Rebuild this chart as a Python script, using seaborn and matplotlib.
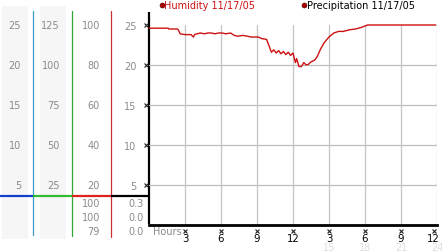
import matplotlib
matplotlib.use("Agg")
import matplotlib.pyplot as plt
import matplotlib.transforms as mtransforms
import seaborn as sns
import pandas as pd

# ---- data ----
hours = [0, 1.6, 1.65, 2.4, 2.6, 3.0, 3.5, 3.7, 3.8, 4.0, 4.3, 4.6, 4.9, 5.2, 5.5,
         5.8, 6.1, 6.4, 6.8, 7.1, 7.4, 7.8, 8.2, 8.5, 8.8, 9.1, 9.4, 9.8, 10.0,
         10.2, 10.4, 10.6, 10.8, 11.0, 11.2, 11.4, 11.6, 11.8, 12.0, 12.2, 12.3,
         12.5, 12.7, 12.9, 13.1, 13.3, 13.5, 13.8, 14.0, 14.3, 14.6, 15.0, 15.4,
         15.8, 16.2, 16.7, 17.2, 17.7, 18.2, 23.9]
humidity = [24.6, 24.6, 24.5, 24.5, 23.9, 23.8, 23.8, 23.5, 23.8, 23.9, 24.0, 23.9,
            24.0, 24.0, 23.9, 24.0, 24.0, 23.9, 24.0, 23.7, 23.6, 23.7, 23.6, 23.5,
            23.5, 23.5, 23.3, 23.2, 22.4, 21.6, 21.9, 21.5, 21.8, 21.4, 21.7, 21.3,
            21.6, 21.2, 21.5, 20.3, 20.8, 19.8, 19.8, 20.3, 20.0, 20.1, 20.4, 20.6,
            21.0, 22.0, 22.8, 23.5, 24.0, 24.2, 24.2, 24.4, 24.5, 24.7, 25.0, 25.0]

x_ticks = [3, 6, 9, 12, 15, 18, 21, 24]
x_tick_labels = ["3", "6", "9", "12", "3", "6", "9", "12"]
x_faint_ticks = [15, 18, 21, 24]
x_faint_labels = ["15", "18", "21", "24"]
y_ticks = [5, 10, 15, 20, 25]
col1_labels = ["5", "10", "15", "20", "25"]
col2_labels = ["25", "50", "75", "100", "125"]
col3_labels = ["20", "40", "60", "80", "100"]
col4_labels = ["5", "10", "15", "20", "25"]
col3_current = ["100", "100", "79"]
col4_current = ["0.3", "0.0", "0.0"]
legend_labels = ["Humidity 11/17/05", "Precipitation 11/17/05"]

df = pd.DataFrame({"hour": hours, "humidity": humidity})

sns.set_style("white")
plt.rcParams["font.family"] = ["DejaVu Sans"]

W, H = 442, 253
fig = plt.figure(figsize=(W / 100, H / 100), dpi=100)

# overlay in pixel coordinates for decorations
ax0 = fig.add_axes([0, 0, 1, 1], zorder=0)
ax0.set_xlim(0, W)
ax0.set_ylim(H, 0)
ax0.axis("off")

# main axes
top_px, bot_px = 26, 226
ax = fig.add_axes([149 / W, (H - bot_px) / H, (437 - 149) / W, (bot_px - top_px) / H], zorder=2)
ax.patch.set_alpha(0)
ax.set_xlim(0, 24)
ax.set_ylim(0, 25)

sns.lineplot(data=df, x="hour", y="humidity", ax=ax, color="#cc1111", lw=1.0,
             clip_on=False, zorder=3)

# grid
for v in [5, 10, 15, 20]:
    ax.axhline(v, color="#bdbdbd", lw=0.9, zorder=1)
for t in x_ticks:
    ax.axvline(t, color="#c4c4c4", lw=0.9, zorder=1)

for s in ["top", "right", "left"]:
    ax.spines[s].set_visible(False)
ax.spines["bottom"].set_color("black")
ax.spines["bottom"].set_linewidth(2.0)

ax.set_xticks(x_ticks)
ax.set_xticklabels(x_tick_labels, fontsize=7.3, color="black")
ax.set_yticks(y_ticks)
ax.set_yticklabels(col4_labels, fontsize=7, color="#8a8a8a")
ax.tick_params(axis="x", length=0, pad=6)
ax.tick_params(axis="y", length=0, pad=9)
ax.set_xlabel("")
ax.set_ylabel("")
last = ax.get_xticklabels()[-1]
last.set_transform(last.get_transform() + mtransforms.ScaledTranslation(-4 / 100, 0, fig.dpi_scale_trans))

# "x" tick markers
ax.plot([-0.25] * len(y_ticks), y_ticks, ls="none", marker="x", ms=2.5, mew=0.8,
        color="#222222", clip_on=False)
ax.plot(x_ticks[:-1], [-0.75] * (len(x_ticks) - 1), ls="none", marker="x", ms=2.5, mew=0.8,
        color="#222222", clip_on=False)
ax.plot([x_ticks[-1] - 0.25], [-0.75], ls="none", marker="x", ms=2.5, mew=0.8,
        color="#222222", clip_on=False)

# faint 24h labels
for t, lab in zip(x_faint_ticks, x_faint_labels):
    ax.text(t, -2.75, lab, ha="center", va="center", fontsize=7, color="#dedede", clip_on=False)

# left black axis line
ax0.plot([149, 149], [13, 225], color="black", lw=1.6, solid_capstyle="butt")

# left panel backgrounds
ax0.add_patch(plt.Rectangle((2, 7), 26, 233, color="#f6f6f6", lw=0))
ax0.add_patch(plt.Rectangle((40, 7), 26, 233, color="#f6f6f6", lw=0))

# vertical colored lines
ax0.plot([33, 33], [12, 236], color="#3a9fc8", lw=0.9)
ax0.plot([72, 72], [12, 237], color="#33a833", lw=0.9)
ax0.plot([111, 111], [12, 238], color="#c83232", lw=0.9)

# horizontal colored line
ax0.plot([0, 33], [197, 197], color="#1040cc", lw=1.6, solid_capstyle="butt")
ax0.plot([33, 72], [197, 197], color="#33bb33", lw=1.6, solid_capstyle="butt")
ax0.plot([72, 111], [197, 197], color="#dd2222", lw=1.6, solid_capstyle="butt")
ax0.plot([111, 149], [197, 197], color="black", lw=1.6, solid_capstyle="butt")

# scale labels
blend = mtransforms.blended_transform_factory(ax0.transData, ax.transData)
for v, a, b, c in zip(y_ticks, col1_labels, col2_labels, col3_labels):
    ax.text(21, v, a, transform=blend, ha="right", va="center", fontsize=7, color="#8a8a8a", clip_on=False)
    ax.text(60, v, b, transform=blend, ha="right", va="center", fontsize=7, color="#8a8a8a", clip_on=False)
    ax.text(100, v, c, transform=blend, ha="right", va="center", fontsize=7, color="#8a8a8a", clip_on=False)

for i, (a, b) in enumerate(zip(col3_current, col4_current)):
    y = 204 + 14.2 * i
    ax0.text(100, y, a, ha="right", va="center", fontsize=7, color="#8a8a8a")
    ax0.text(144, y, b, ha="right", va="center", fontsize=7, color="#8a8a8a")

ax0.text(153, 232, "Hours", ha="left", va="center", fontsize=7, color="#8a8a8a")

# legend
ax0.plot([161.5], [5.5], marker="o", ms=3.6, color="#aa0000", mec="#550000", mew=0.4)
ax0.text(164, 5.5, legend_labels[0], ha="left", va="center", fontsize=7, color="#cc1111")
ax0.plot([303.5], [5.5], marker="o", ms=3.6, color="#aa0000", mec="#550000", mew=0.4)
ax0.text(307, 5.5, legend_labels[1], ha="left", va="center", fontsize=7, color="black")

fig.savefig("out.png", dpi=100)
